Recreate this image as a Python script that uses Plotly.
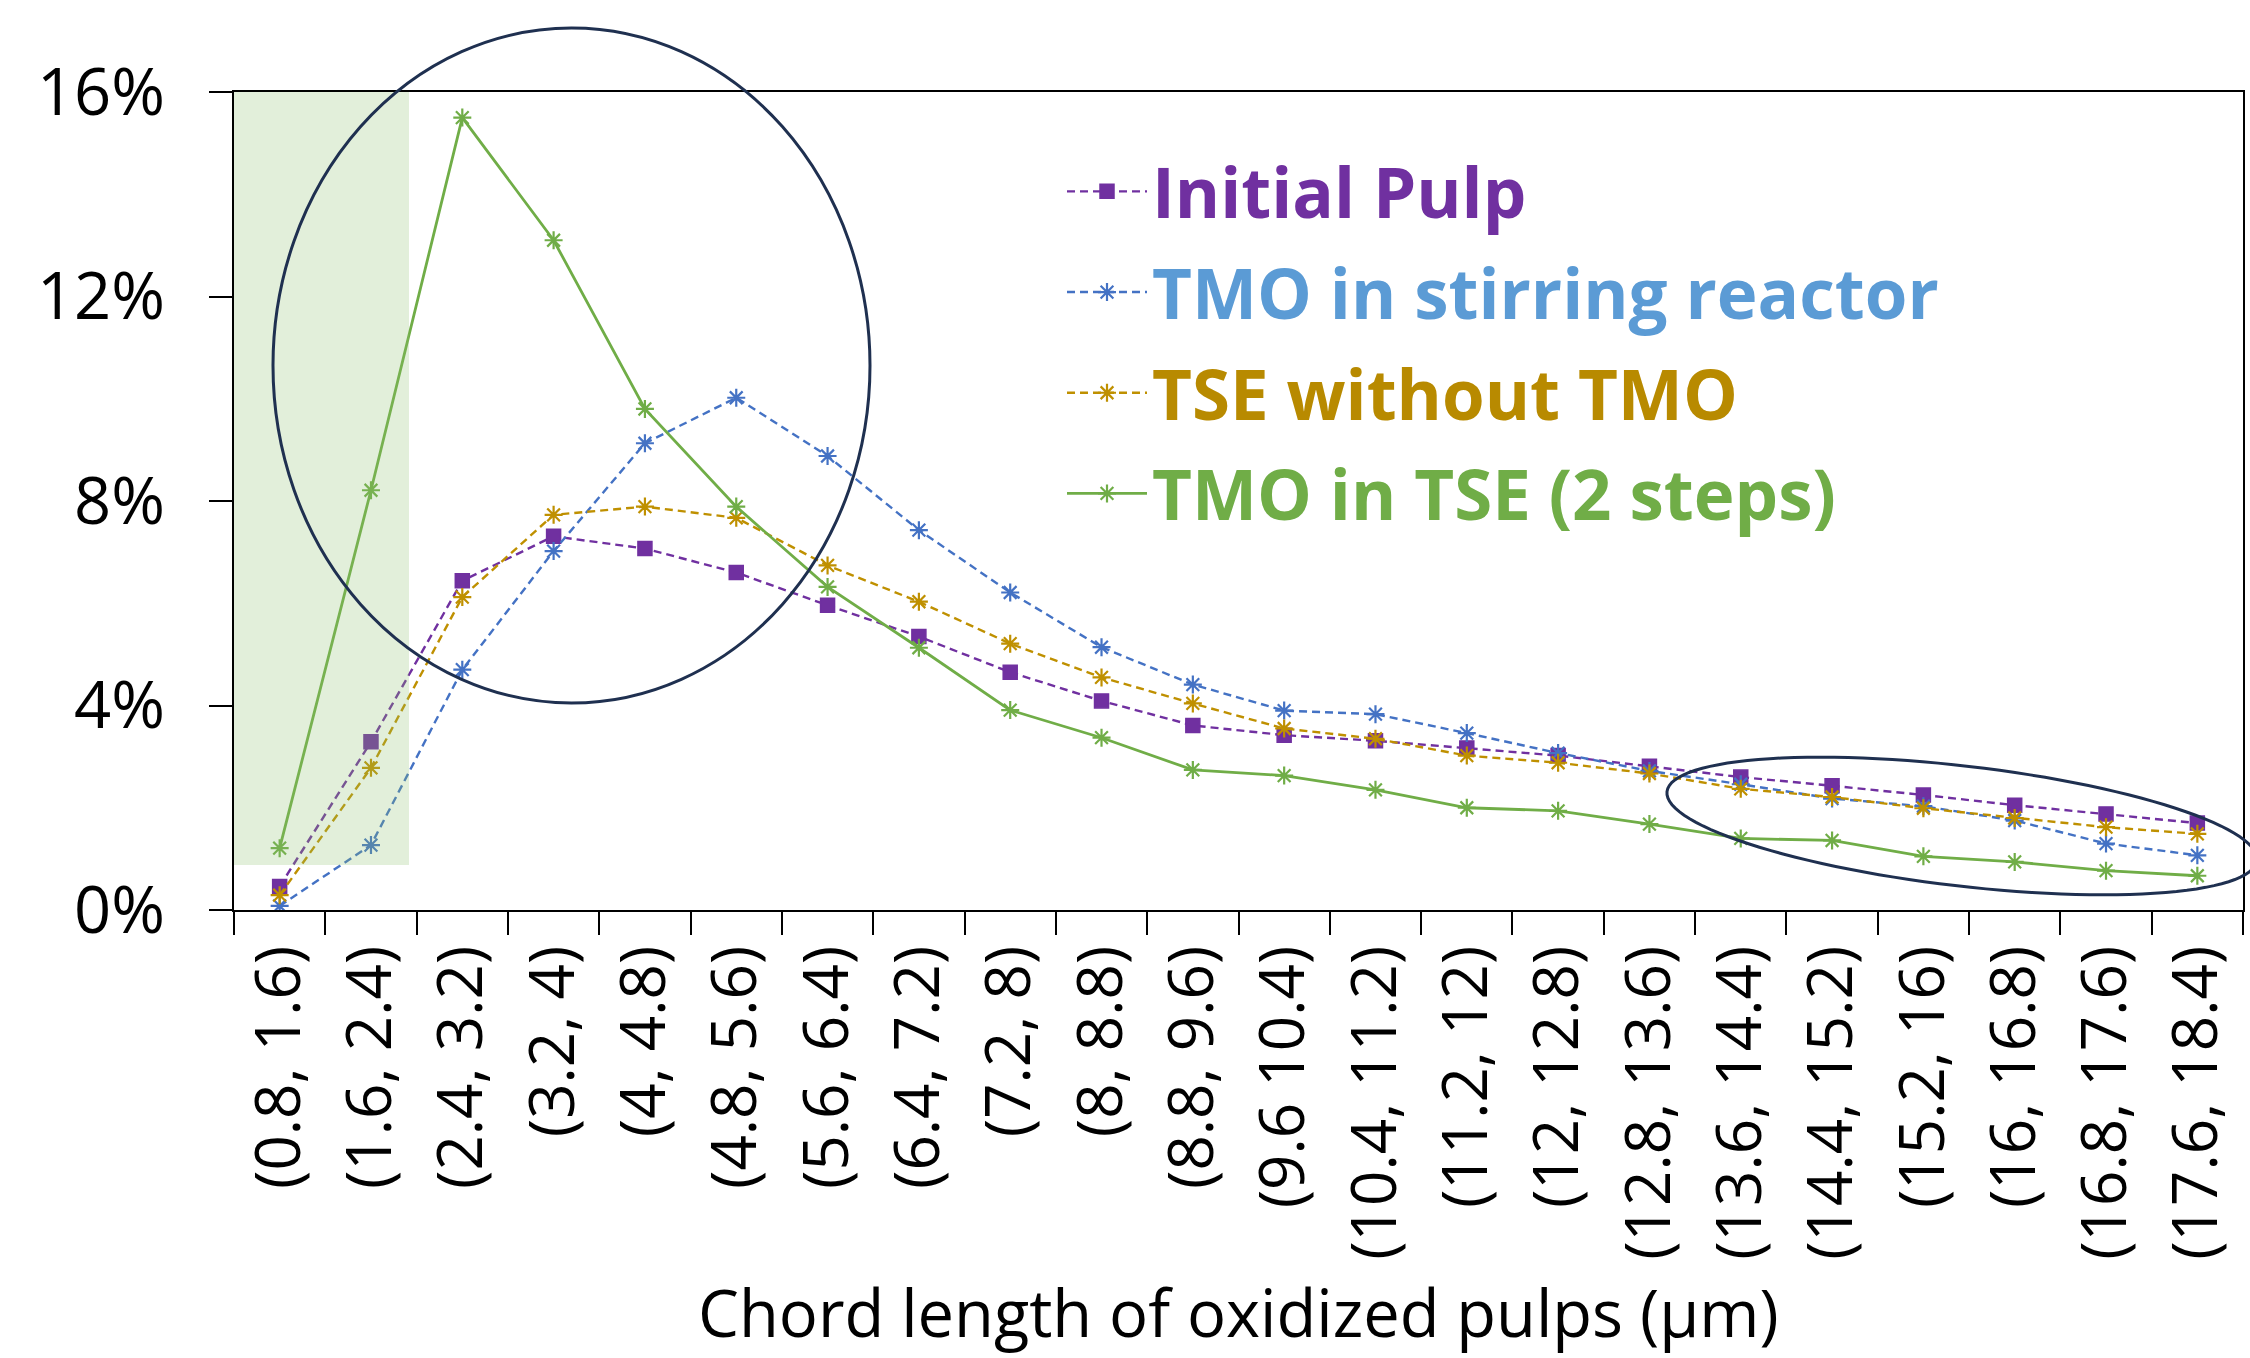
import numpy as np
import plotly.graph_objects as go

categories = ["(0.8, 1.6)", "(1.6, 2.4)", "(2.4, 3.2)", "(3.2, 4)", "(4, 4.8)", "(4.8, 5.6)",
              "(5.6, 6.4)", "(6.4, 7.2)", "(7.2, 8)", "(8, 8.8)", "(8.8, 9.6)", "(9.6 10.4)",
              "(10.4, 11.2)", "(11.2, 12)", "(12, 12.8)", "(12.8, 13.6)", "(13.6, 14.4)",
              "(14.4, 15.2)", "(15.2, 16)", "(16, 16.8)", "(16.8, 17.6)", "(17.6, 18.4)"]

initial_pulp = [0.46, 3.29, 6.44, 7.31, 7.07, 6.60, 5.96, 5.35, 4.65, 4.09, 3.61, 3.42,
                3.31, 3.17, 3.02, 2.81, 2.60, 2.43, 2.25, 2.05, 1.88, 1.70]
tmo_stirring = [0.08, 1.27, 4.70, 7.02, 9.13, 10.02, 8.88, 7.43, 6.21, 5.14, 4.41, 3.90,
                3.83, 3.46, 3.07, 2.72, 2.46, 2.18, 2.03, 1.75, 1.30, 1.07]
tse_without = [0.29, 2.78, 6.12, 7.73, 7.89, 7.67, 6.74, 6.03, 5.21, 4.55, 4.04, 3.55,
               3.35, 3.02, 2.88, 2.67, 2.37, 2.21, 1.99, 1.80, 1.62, 1.49]
tmo_tse = [1.21, 8.21, 15.50, 13.10, 9.80, 7.89, 6.32, 5.13, 3.91, 3.37, 2.74, 2.63,
           2.35, 2.00, 1.94, 1.68, 1.40, 1.36, 1.05, 0.94, 0.77, 0.67]

y_ticks = [0, 4, 8, 12, 16]

FONT = "Open Sans"
W, H = 2250, 1358
L, R, T, B = 234, 7, 92, 448
PW, PH = W - L - R, H - T - B


def px2paper(px, py):
    return (np.asarray(px) - L) / PW, (H - B - np.asarray(py)) / PH


series = [
    ("Initial Pulp", initial_pulp, "#7030A0", "#7030A0", "dash", "square"),
    ("TMO in stirring reactor", tmo_stirring, "#4472C4", "#5B9BD5", "dash", "asterisk-open"),
    ("TSE without TMO", tse_without, "#BF9000", "#B88A00", "dash", "asterisk-open"),
    ("TMO in TSE (2 steps)", tmo_tse, "#70AD47", "#70AD47", "solid", "asterisk-open"),
]

fig = go.Figure()
for name, vals, lc, tc, dash, sym in series:
    is_sq = sym == "square"
    fig.add_trace(go.Scatter(
        x=categories, y=vals, mode="lines+markers",
        name=f"<span style='color:{tc}'><b>{name}</b></span>",
        legendgroup=name,
        line=dict(color=lc, width=2.8 if dash == "solid" else 2.4,
                  dash="8px,5px" if dash == "dash" else "solid"),
        marker=dict(symbol=sym, size=14 if is_sq else 15, color=lc,
                    line=dict(color=lc, width=1.5 if is_sq else 2.2)),
    ))

# green highlighted zone (semi-transparent overlay)
rx1, _ = px2paper(409, 0)
fig.add_shape(type="rect", xref="paper", yref="y", x0=0, x1=float(rx1), y0=0.88, y1=16.1,
              fillcolor="rgba(139,191,107,0.25)", line=dict(width=0), layer="above")

# big ellipse around peak
ex0, ey0 = px2paper(273, 703)
ex1, ey1 = px2paper(870, 28)
fig.add_shape(type="circle", xref="paper", yref="paper", x0=float(ex0), x1=float(ex1),
              y0=float(ey0), y1=float(ey1), line=dict(color="#1F3050", width=3),
              layer="above")

# tilted ellipse around tails
cx, cy, a, b, th = 1962, 826, 297, 60, np.deg2rad(6.66)
t = np.linspace(0, 2 * np.pi, 121)
epx = cx + a * np.cos(t) * np.cos(th) - b * np.sin(t) * np.sin(th)
epy = cy + a * np.cos(t) * np.sin(th) + b * np.sin(t) * np.cos(th)
qx, qy = px2paper(epx, epy)
path = "M " + " L ".join(f"{x:.5f},{y:.5f}" for x, y in zip(qx, qy)) + " Z"
fig.add_shape(type="path", xref="paper", yref="paper", path=path,
              line=dict(color="#1F3050", width=3), layer="above")

# x-axis title as annotation
fig.add_annotation(text="Chord length of oxidized pulps (μm)", xref="paper", yref="paper",
                   x=0.5, y=float(px2paper(0, 1312)[1]), xanchor="center", yanchor="middle",
                   showarrow=False, font=dict(family=FONT, size=65, color="black"))

fig.update_layout(
    width=W, height=H,
    margin=dict(l=L, r=R, t=T, b=B, autoexpand=False),
    paper_bgcolor="white", plot_bgcolor="white",
    font=dict(family=FONT, color="black"),
    showlegend=True,
    legend=dict(x=float(px2paper(1062, 0)[0]), y=float(px2paper(0, 140)[1]),
                xanchor="left", yanchor="top", bgcolor="rgba(0,0,0,0)",
                font=dict(family=FONT, size=69), valign="top", tracegroupgap=8,
                itemwidth=80),
)
fig.update_xaxes(
    type="category", range=[-0.5, len(categories) - 0.5], tickson="boundaries",
    ticks="outside", ticklen=23, tickwidth=2, tickcolor="black",
    showline=True, linecolor="black", linewidth=2, mirror=True,
    showgrid=False, zeroline=False, tickangle=-90, ticklabelstandoff=9,
    tickfont=dict(family=FONT, size=62, color="black"), automargin=False,
)
fig.update_yaxes(
    range=[0, 16], tickvals=y_ticks, ticktext=[f"{v}%" for v in y_ticks],
    ticks="outside", ticklen=23, tickwidth=2, tickcolor="black",
    showline=True, linecolor="black", linewidth=2, mirror=True,
    showgrid=False, zeroline=False, ticklabelstandoff=31,
    tickfont=dict(family=FONT, size=65, color="black"), automargin=False,
)

fig.write_html("out.html", config={"displayModeBar": False},
               post_script="document.body.style.margin='0';")
